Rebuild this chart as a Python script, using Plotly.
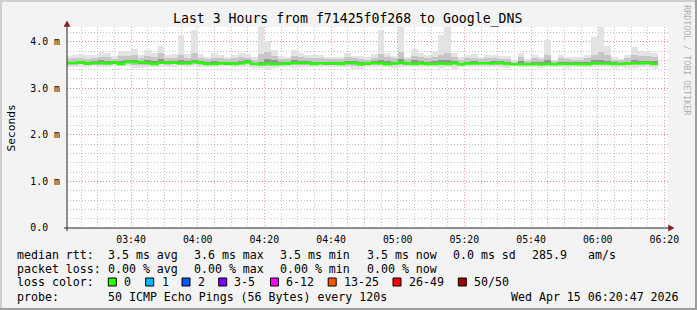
import plotly.graph_objects as go
import pandas as pd

# ---------------- data (ms) ----------------
times = pd.date_range("2026-04-15 03:22:00", "2026-04-15 06:18:00", freq="2min")

maxv = [3.70, 3.715, 3.74, 3.715, 3.715, 3.77, 3.75, 3.70, 3.81, 3.81,
        3.84, 3.715, 3.82, 3.75, 3.91, 3.715, 3.74, 4.15, 3.74, 4.26,
        3.74, 3.68, 3.75, 3.715, 3.68, 3.715, 3.75, 3.74, 3.665, 4.45,
        4.01, 3.82, 3.70, 3.68, 3.82, 3.75, 3.715, 3.715, 3.715, 3.68,
        3.68, 3.68, 3.75, 3.70, 3.70, 3.665, 3.74, 4.25, 3.75, 3.70,
        4.50, 3.68, 3.84, 3.75, 3.715, 3.77, 4.14, 4.45, 3.75, 3.665,
        3.715, 3.74, 3.68, 3.715, 3.715, 3.70, 3.70, 3.60, 3.75, 3.62,
        3.715, 3.68, 4.04, 3.61, 3.715, 3.68, 3.665, 3.665, 3.715, 4.11,
        4.45, 3.90, 3.665, 3.63, 3.715, 3.88, 3.81, 3.81, 3.75]

p90 = [3.63, 3.64, 3.65, 3.63, 3.64, 3.68, 3.67, 3.63, 3.70, 3.70,
       3.72, 3.64, 3.70, 3.67, 3.75, 3.64, 3.66, 3.72, 3.66, 3.76,
       3.66, 3.62, 3.66, 3.64, 3.62, 3.64, 3.67, 3.66, 3.61, 3.74,
       3.78, 3.70, 3.63, 3.62, 3.70, 3.67, 3.64, 3.64, 3.64, 3.62,
       3.62, 3.62, 3.67, 3.64, 3.63, 3.61, 3.66, 3.74, 3.67, 3.64,
       3.78, 3.62, 3.70, 3.67, 3.64, 3.68, 3.72, 3.76, 3.67, 3.61,
       3.64, 3.66, 3.62, 3.64, 3.64, 3.63, 3.63, 3.57, 3.67, 3.58,
       3.64, 3.62, 3.72, 3.58, 3.64, 3.62, 3.61, 3.61, 3.64, 3.72,
       3.78, 3.72, 3.61, 3.60, 3.64, 3.72, 3.70, 3.70, 3.67]

p75 = [3.57, 3.57, 3.58, 3.56, 3.58, 3.60, 3.58, 3.57, 3.58, 3.60,
       3.61, 3.58, 3.60, 3.59, 3.62, 3.58, 3.58, 3.60, 3.58, 3.61,
       3.58, 3.56, 3.58, 3.57, 3.56, 3.57, 3.59, 3.60, 3.55, 3.57,
       3.62, 3.60, 3.57, 3.56, 3.60, 3.59, 3.58, 3.57, 3.57, 3.56,
       3.56, 3.56, 3.59, 3.58, 3.56, 3.56, 3.58, 3.60, 3.58, 3.57,
       3.62, 3.56, 3.60, 3.58, 3.57, 3.58, 3.61, 3.60, 3.58, 3.55,
       3.57, 3.58, 3.57, 3.57, 3.58, 3.58, 3.57, 3.55, 3.58, 3.55,
       3.57, 3.56, 3.60, 3.55, 3.57, 3.56, 3.56, 3.56, 3.57, 3.60,
       3.61, 3.58, 3.56, 3.55, 3.57, 3.60, 3.59, 3.59, 3.58]

median = [3.544, 3.544, 3.558, 3.530, 3.544, 3.544, 3.530, 3.558, 3.522, 3.572,
          3.558, 3.558, 3.544, 3.522, 3.551, 3.551, 3.551, 3.537, 3.537, 3.565,
          3.551, 3.522, 3.522, 3.537, 3.537, 3.522, 3.537, 3.558, 3.522, 3.515,
          3.530, 3.515, 3.522, 3.537, 3.544, 3.544, 3.544, 3.522, 3.537, 3.537,
          3.537, 3.522, 3.544, 3.544, 3.515, 3.537, 3.544, 3.537, 3.515, 3.530,
          3.551, 3.530, 3.522, 3.537, 3.522, 3.522, 3.530, 3.522, 3.544, 3.515,
          3.530, 3.530, 3.537, 3.537, 3.537, 3.544, 3.522, 3.515, 3.515, 3.515,
          3.515, 3.515, 3.522, 3.515, 3.522, 3.522, 3.522, 3.515, 3.515, 3.537,
          3.530, 3.530, 3.522, 3.522, 3.530, 3.537, 3.537, 3.551, 3.522]

p25 = [3.53, 3.53, 3.54, 3.52, 3.53, 3.53, 3.52, 3.54, 3.51, 3.55,
       3.54, 3.54, 3.53, 3.51, 3.54, 3.54, 3.54, 3.52, 3.52, 3.55,
       3.54, 3.51, 3.51, 3.52, 3.52, 3.51, 3.52, 3.54, 3.51, 3.50,
       3.52, 3.50, 3.51, 3.52, 3.53, 3.53, 3.53, 3.51, 3.52, 3.52,
       3.52, 3.51, 3.53, 3.53, 3.50, 3.52, 3.53, 3.52, 3.50, 3.52,
       3.54, 3.52, 3.51, 3.52, 3.51, 3.51, 3.52, 3.51, 3.53, 3.50,
       3.52, 3.52, 3.52, 3.52, 3.52, 3.53, 3.51, 3.50, 3.50, 3.50,
       3.50, 3.50, 3.51, 3.50, 3.51, 3.51, 3.51, 3.50, 3.50, 3.52,
       3.52, 3.52, 3.51, 3.51, 3.52, 3.52, 3.52, 3.54, 3.51]

p10 = [3.51, 3.51, 3.52, 3.50, 3.51, 3.51, 3.49, 3.52, 3.50, 3.52,
       3.51, 3.51, 3.51, 3.49, 3.52, 3.51, 3.52, 3.51, 3.50, 3.52,
       3.51, 3.49, 3.50, 3.51, 3.51, 3.49, 3.51, 3.52, 3.49, 3.48,
       3.48, 3.49, 3.50, 3.51, 3.50, 3.51, 3.51, 3.49, 3.51, 3.50,
       3.51, 3.49, 3.51, 3.48, 3.48, 3.51, 3.51, 3.51, 3.49, 3.50,
       3.51, 3.50, 3.49, 3.51, 3.49, 3.49, 3.50, 3.49, 3.51, 3.47,
       3.50, 3.50, 3.51, 3.51, 3.51, 3.51, 3.49, 3.50, 3.49, 3.49,
       3.49, 3.48, 3.49, 3.49, 3.50, 3.49, 3.49, 3.49, 3.49, 3.51,
       3.50, 3.50, 3.49, 3.50, 3.49, 3.50, 3.51, 3.51, 3.49]

minv = [3.45, 3.45, 3.45, 3.46, 3.48, 3.45, 3.45, 3.48, 3.48, 3.48,
        3.43, 3.43, 3.46, 3.45, 3.46, 3.46, 3.46, 3.47, 3.46, 3.47,
        3.45, 3.45, 3.46, 3.47, 3.47, 3.45, 3.46, 3.46, 3.43, 3.43,
        3.40, 3.44, 3.45, 3.46, 3.44, 3.46, 3.46, 3.45, 3.46, 3.45,
        3.46, 3.45, 3.46, 3.41, 3.41, 3.45, 3.46, 3.46, 3.45, 3.44,
        3.46, 3.45, 3.46, 3.46, 3.45, 3.45, 3.44, 3.45, 3.39, 3.45,
        3.45, 3.46, 3.46, 3.45, 3.46, 3.46, 3.44, 3.47, 3.46, 3.46,
        3.46, 3.44, 3.46, 3.45, 3.46, 3.44, 3.45, 3.45, 3.46, 3.45,
        3.45, 3.46, 3.44, 3.46, 3.43, 3.44, 3.45, 3.45, 3.44]

y_tickvals = [0, 1, 2, 3, 4]
y_ticktext = ["0.0\u00a0\u00a0", "1.0 m", "2.0 m", "3.0 m", "4.0 m"]

title_text = "Last 3 Hours from f71425f0f268 to Google_DNS"
row1 = [("median rtt:", 16), ("3.5 ms avg", 107.3), ("3.6 ms max", 193.3),
        ("3.5 ms min", 279.3), ("3.5 ms now", 366), ("0.0 ms sd", 451.7),
        ("285.9", 530.7), ("am/s", 586.7)]
row2 = [("packet loss:", 16), ("0.00 % avg", 107.3), ("0.00 % max", 193.3),
        ("0.00 % min", 279.3), ("0.00 % now", 366)]
loss_labels = ["0", "1", "2", "3-5", "6-12", "13-25", "26-49", "50/50"]
loss_colors = ["#26ff00", "#00b8ff", "#0059ff", "#7e00ff", "#ff00ff",
               "#ff5500", "#ff0000", "#a00000"]
probe_text = "50 ICMP Echo Pings (56 Bytes) every 120s"
date_text = "Wed Apr 15 06:20:47 2026"

# ---------------- layout geometry ----------------
W, H = 697, 310
ML, MR, MT, MB = 67, 29, 27, 82
PW = W - ML - MR
PH = H - MT - MB
x0 = pd.Timestamp("2026-04-15 03:20:47")
x1 = x0 + pd.Timedelta(seconds=18 * PW)
YMAX = 4.316

MONO = "DejaVu Sans Mono"


def xp(px):
    return (px - ML) / PW


def yp(py):
    return (H - MB - py) / PH


fig = go.Figure()

step_ms = 120000
layers = [(minv, maxv, "#e3e3e3"), (p10, p90, "#c6c6c6"), (p25, p75, "#949494")]
for lo, hi, col in layers:
    fig.add_trace(go.Bar(
        x=times, y=[h - l for l, h in zip(lo, hi)], base=lo,
        width=step_ms, offset=-step_ms,
        marker=dict(color=col, line=dict(width=0)),
        hoverinfo="skip", showlegend=False))

# median line (step: value covers previous 2 minutes)
line_x = list(times - pd.Timedelta(minutes=2)) + [times[-1]]
line_y = list(median) + [median[-1]]
fig.add_trace(go.Scatter(x=line_x, y=line_y, mode="lines",
                         line=dict(color="#26ff00", width=2.5, shape="hv"),
                         hoverinfo="skip", showlegend=False))

minor_grid = "rgba(140,140,140,0.5)"
major_grid = "rgba(235,90,90,0.55)"

fig.update_layout(
    width=W, height=H,
    margin=dict(l=ML, r=MR, t=MT, b=MB, pad=0),
    paper_bgcolor="#f3f3f3", plot_bgcolor="#ffffff",
    barmode="overlay", bargap=0,
    font=dict(family=MONO, color="#000000", size=10),
    showlegend=False,
    xaxis=dict(
        type="date", range=[x0, x1], fixedrange=True,
        tick0="2026-04-15 03:40:00", dtick=20 * 60 * 1000, tickformat="%H:%M",
        ticks="", ticklabelstandoff=4,
        tickfont=dict(family=MONO, size=9.85, color="#000"),
        showgrid=True, gridcolor=major_grid, griddash="1px,2px", gridwidth=1,
        minor=dict(dtick=5 * 60 * 1000, tick0="2026-04-15 03:40:00",
                   showgrid=True, gridcolor=minor_grid, griddash="1px,2px", gridwidth=1),
        showline=False, zeroline=False),
    yaxis=dict(
        range=[0, YMAX], fixedrange=True,
        tickmode="array", tickvals=y_tickvals, ticktext=y_ticktext,
        ticks="", ticklabelstandoff=6,
        tickfont=dict(family=MONO, size=9.85, color="#000"),
        showgrid=True, gridcolor=major_grid, griddash="1px,2px", gridwidth=1,
        minor=dict(dtick=0.2, tick0=0, showgrid=True, gridcolor=minor_grid,
                   griddash="1px,2px", gridwidth=1),
        showline=False, zeroline=False),
)

shapes = []
axis_col = "#222222"
arrow_col = "#7f1f1f"
# axes
shapes.append(dict(type="line", xref="paper", yref="paper",
                   x0=xp(67), x1=xp(67), y0=yp(231), y1=yp(25),
                   line=dict(color=axis_col, width=1)))
shapes.append(dict(type="line", xref="paper", yref="paper",
                   x0=xp(64), x1=xp(670), y0=yp(228), y1=yp(228),
                   line=dict(color=axis_col, width=1)))
# arrows
shapes.append(dict(type="path", xref="paper", yref="paper",
                   path=f"M {xp(64)} {yp(26.5)} L {xp(70)} {yp(26.5)} L {xp(67)} {yp(21)} Z",
                   fillcolor=arrow_col, line=dict(color=arrow_col, width=0.5)))
shapes.append(dict(type="path", xref="paper", yref="paper",
                   path=f"M {xp(668.5)} {yp(225)} L {xp(668.5)} {yp(231)} L {xp(674)} {yp(228)} Z",
                   fillcolor=arrow_col, line=dict(color=arrow_col, width=0.5)))
# 3D border
shapes.append(dict(type="line", xref="paper", yref="paper",
                   x0=xp(0), x1=xp(W), y0=yp(1), y1=yp(1), line=dict(color="#cfcfcf", width=2)))
shapes.append(dict(type="line", xref="paper", yref="paper",
                   x0=xp(1), x1=xp(1), y0=yp(0), y1=yp(H), line=dict(color="#cfcfcf", width=2)))
shapes.append(dict(type="line", xref="paper", yref="paper",
                   x0=xp(0), x1=xp(W), y0=yp(H - 1), y1=yp(H - 1), line=dict(color="#9e9e9e", width=2)))
shapes.append(dict(type="line", xref="paper", yref="paper",
                   x0=xp(W - 1), x1=xp(W - 1), y0=yp(0), y1=yp(H), line=dict(color="#9e9e9e", width=2)))

# loss color boxes
box_x = [108.3, 145.7, 182.0, 218.7, 270.5, 328.2, 393.0, 458.3]
lab_x = [123.0, 160.5, 196.7, 233.3, 285.2, 343.0, 408.0, 473.0]
for bx, col in zip(box_x, loss_colors):
    shapes.append(dict(type="rect", xref="paper", yref="paper",
                       x0=xp(bx), x1=xp(bx + 8), y0=yp(286), y1=yp(278),
                       fillcolor=col, line=dict(color="#000", width=1)))
fig.update_layout(shapes=shapes)

LEG = 11.6
ann = []


def text(t, x, y, size=LEG, anchor="left", color="#000", angle=0):
    ann.append(dict(text=t, x=xp(x), y=yp(y), xref="paper", yref="paper",
                    xanchor=anchor, yanchor="middle", showarrow=False,
                    borderpad=0, textangle=angle,
                    font=dict(family=MONO, size=size, color=color)))


text(title_text, 347.7, 19, size=13.2, anchor="center")
text("Seconds", 10.5, 128, size=11.2, anchor="center", angle=-90)
text("RRDTOOL / TOBI OETIKER", 686.7, 60, size=8.3, anchor="center",
     color="#b0b0b0", angle=90)
for t, x in row1:
    text(t, x, 254.5)
for t, x in row2:
    text(t, x, 268.5)
text("loss color:", 16, 282)
for t, x in zip(loss_labels, lab_x):
    text(t, x, 282)
text("probe:", 16, 296.5)
text(probe_text, 107.3, 296.5)
text(date_text, 680, 296.5, anchor="right")
fig.update_layout(annotations=ann)

fig.write_html("out.html")
